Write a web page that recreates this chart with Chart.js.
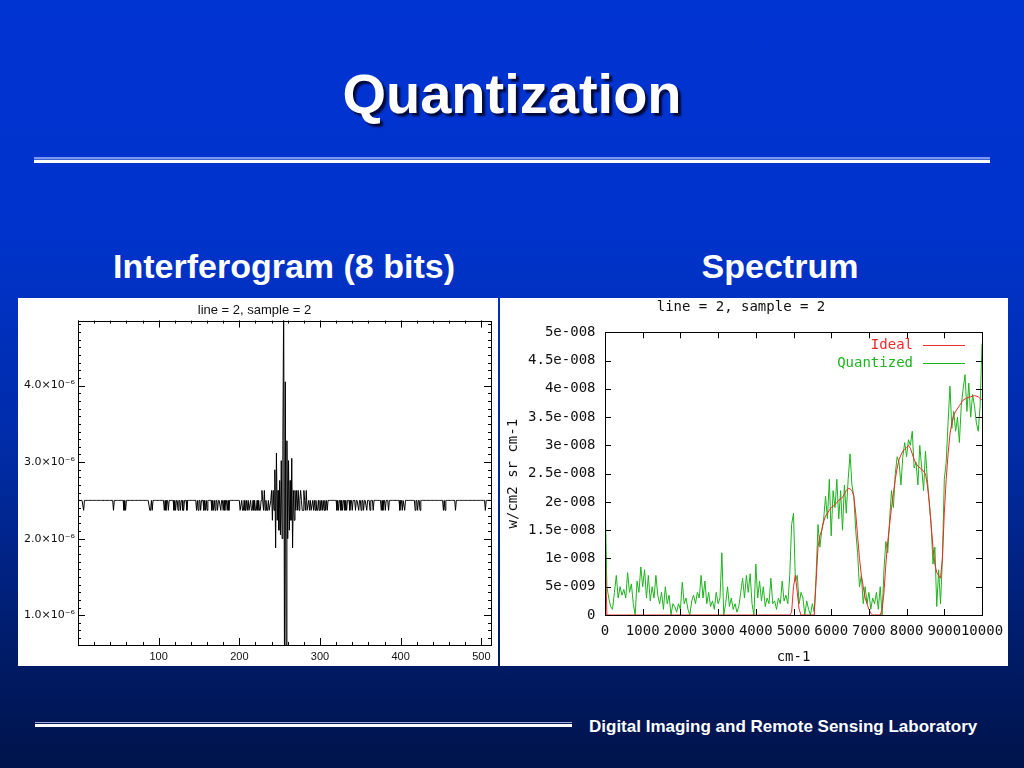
<!DOCTYPE html>
<html>
<head>
<meta charset="utf-8">
<script src="https://cdn.jsdelivr.net/npm/chart.js@4.4.1/dist/chart.umd.min.js"></script>
<style>
    html, body {
        margin: 0;
        padding: 0;
    }
    body {
        width: 1024px;
        height: 768px;
        overflow: hidden;
        position: relative;
        font-family: "Liberation Sans", Arial, sans-serif;
        background: linear-gradient(to bottom, #0034d2 0%, #0033cc 30%, #002ca8 58%, #001c6a 84%, #00134a 100%);
    }
    .title {
        position: absolute;
        left: 0;
        width: 1024px;
        top: 66px;
        line-height: 56px;
        text-align: center;
        color: #fff;
        font-weight: bold;
        font-size: 56px;
        text-shadow: 3px 3px 2px #000a3a;
    }
    .rule-top {
        position: absolute;
        left: 34px;
        width: 956px;
        top: 157px;
        height: 2px;
        background: #7c98ec;
        border-bottom: 1px solid #3d62d8;
    }
    .rule-top-w {
        position: absolute;
        left: 34px;
        width: 956px;
        top: 160px;
        height: 3px;
        background: #fff;
    }
    .subtitle {
        position: absolute;
        top: 247px;
        line-height: 38px;
        color: #fff;
        font-weight: bold;
        font-size: 34px;
        text-align: center;
    }
    .panel {
        position: absolute;
        background: #fff;
    }
    .rule-bot {
        position: absolute;
        left: 35px;
        width: 537px;
        top: 722px;
        height: 1px;
        background: #9fb0d8;
    }
    .rule-bot-w {
        position: absolute;
        left: 35px;
        width: 537px;
        top: 724px;
        height: 3px;
        background: #fff;
    }
    .footer {
        position: absolute;
        left: 589px;
        top: 717px;
        line-height: 20px;
        color: #fff;
        font-weight: bold;
        font-size: 17px;
    }
</style>
</head>
<body>
<div class="title">Quantization</div>
<div class="rule-top"></div>
<div class="rule-top-w"></div>
<div class="subtitle" style="left: 84px; width: 400px;">Interferogram (8 bits)</div>
<div class="subtitle" style="left: 630px; width: 300px;">Spectrum</div>
<div class="panel" style="left: 18px; top: 298px; width: 480px; height: 368px;"><canvas id="interf"></canvas></div>
<div class="panel" style="left: 500px; top: 298px; width: 508px; height: 368px;"><canvas id="spectrum"></canvas></div>
<div class="rule-bot"></div>
<div class="rule-bot-w"></div>
<div class="footer">Digital Imaging and Remote Sensing Laboratory</div>

<script>
// ---- Interferogram (values in units of 1e-6) ----
const interfCount = 512;          // samples 0..511
const interfBase = 2.50;          // zero-path level
const interfLow = 2.37;           // one quantization step down
const interfHigh = 2.63;          // one quantization step up
const interfLowSamples = [7, 44, 57, 59, 89, 90, 92, 107, 109, 112, 119, 121, 124, 127, 130, 131, 135,
    147, 149, 152, 156, 158, 160, 166, 168, 170, 173, 177, 180, 182, 185, 187, 201, 202, 204, 205,
    207, 208, 210, 212, 213, 215, 216, 218, 220, 221, 223, 225, 226, 230, 232, 234, 235, 237,
    278, 279, 282, 284, 285, 287, 289, 290, 292, 294, 296, 297, 299, 301, 303, 305, 307, 309,
    321, 323, 326, 328, 331, 333, 337, 340, 344, 348, 351, 354, 358, 362, 366, 376, 378, 381, 385,
    399, 402, 405, 418, 421, 424, 453, 455, 468, 505];
const interfHighSamples = [228, 231, 276, 280, 283];
const interfBurstStart = 238;
const interfBurst = [2.37, 2.50, 2.63, 2.24, 2.63, 2.37, 2.90, 1.88, 3.12, 2.24,
    2.63, 2.11, 2.76, 2.05, 3.02, 2.00, 3.28, 5.20, 0.20, 4.05,
    0.40, 3.28, 2.00, 3.02, 2.11, 2.76, 2.24, 3.05, 1.88, 2.63,
    2.24, 2.63, 2.37, 2.63, 2.37, 2.63, 2.37, 2.50];
const interfXTicks = [100, 200, 300, 400, 500];
const interfYTicks = [1, 2, 3, 4];

// ---- Spectrum (values in units of 1e-9 W/cm2 sr cm-1) ----
const specStep = 50;              // cm-1 between quantized samples
const quantized = [
    22, 5, 3, 1.5, 1, 4, 7, 3, 5, 3.5, 4.5, 3, 7.5, 4, 5.5, 2, 0, 6, 4, 8.5,
    5, 8, 3, 7, 2.5, 5, 3, 7, 3.5, 2, 4, 1, 5, 2, 3.5, 0, 2, 1.5, 0.5, 2,
    1, 5.8, 2, 3, 1, 0, 2.5, 3.5, 2, 4, 3, 7, 3, 6, 2, 4, 1.5, 2.5, 1, 4,
    2, 3, 11, 0, 2, 5, 1.5, 3, 1, 2, 0.5, 1.5, 4, 6.5, 3, 7, 4, 7.3, 2, 0,
    9, 3, 6, 2.5, 5, 1.5, 3, 2, 6.5, 2, 2.5, 1, 3, 2, 6, 2.5, 3.5, 2, 7, 16,
    18, 6, 7, 2, 4, 3, 0, 2.5, 1, 0, 2, 0.5, 7, 16, 12, 15, 17, 21, 17, 24,
    14, 22, 19, 24, 17, 22, 15, 23, 18, 24, 28.5, 23, 21, 15, 11, 5, 7, 2, 5, 2,
    4, 1, 3, 2, 4, 1, 5, 0, 8, 13, 11, 17, 22, 19, 25, 28, 27, 23, 28, 30.5,
    28, 31, 30, 32.5, 26, 27, 23, 30, 26, 22, 29, 24, 20, 16, 9, 12, 1.5, 8, 2, 10,
    24, 27, 34, 40.5, 33, 36, 32.5, 35, 30.5, 37, 40, 42.5, 36, 41, 35, 39, 37, 34, 32.5, 37, 48
];
const idealX = [0, 50, 4900, 4950, 5000, 5050, 5100, 5150, 5200, 5550, 5600, 5650, 5700, 5750, 5800,
    5850, 5900, 5950, 6000, 6100, 6200, 6300, 6400, 6450, 6500, 6550, 6600, 6650, 6700, 6750, 6800,
    6850, 6900, 6950, 7000, 7050, 7100, 7300, 7350, 7400, 7450, 7500, 7550, 7600, 7650, 7700, 7750,
    7800, 7850, 7900, 7950, 8000, 8050, 8100, 8150, 8200, 8250, 8300, 8400, 8500, 8550, 8600, 8650,
    8700, 8750, 8800, 8850, 8900, 8950, 9000, 9050, 9100, 9150, 9200, 9250, 9300, 9400, 9500, 9600,
    9700, 9800, 9900, 10000];
const idealY = [13, 0, 0, 0.5, 5, 7, 4, 1, 0, 0, 6, 12, 14, 15, 16.5,
    17.5, 18, 18.5, 19, 19.5, 20.3, 20.8, 22, 22.4, 22.3, 22, 21, 18, 14, 10, 7,
    5, 3, 2, 1, 0.3, 0, 0, 1, 4, 9, 13, 16, 19, 21.5, 24, 26,
    27.5, 28.3, 29, 29.3, 29.6, 30, 29.5, 28.5, 27.5, 26.8, 26.3, 25.8, 25, 23, 20, 16,
    12, 9, 7.5, 7, 6.5, 10, 18, 24, 28.5, 32, 34, 35.3, 36, 37, 38, 38.4,
    38.6, 38.8, 38.6, 38];

// Build point lists for the charts
const interfPoints = [];
for (let s = 0; s < interfCount; s++) {
    let v = interfBase;
    if (interfLowSamples.includes(s)) v = interfLow;
    if (interfHighSamples.includes(s)) v = interfHigh;
    const b = s - interfBurstStart;
    if (b >= 0 && b < interfBurst.length) v = interfBurst[b];
    interfPoints.push({ x: s, y: v });
}
const quantizedPoints = quantized.map((v, i) => ({ x: i * specStep, y: v }));
const idealPoints = idealX.map((x, i) => ({ x: x, y: idealY[i] }));

// Frame round the plot plus inward tick marks on all four sides
const frameTicks = {
    id: 'frameTicks',
    afterDatasetsDraw(chart, args, opts) {
        const { ctx, chartArea: a, scales } = chart;
        ctx.save();
        ctx.strokeStyle = '#000';
        ctx.lineWidth = 1;
        ctx.strokeRect(Math.round(a.left) + 0.5, Math.round(a.top) + 0.5,
            Math.round(a.right - a.left), Math.round(a.bottom - a.top));
        ctx.beginPath();
        opts.x.forEach(([step, len]) => {
            const sc = scales.x;
            for (let i = Math.ceil(sc.min / step); i * step <= sc.max; i++) {
                const px = Math.round(sc.getPixelForValue(i * step)) + 0.5;
                ctx.moveTo(px, a.bottom); ctx.lineTo(px, a.bottom - len);
                ctx.moveTo(px, a.top); ctx.lineTo(px, a.top + len);
            }
        });
        opts.y.forEach(([step, len]) => {
            const sc = scales.y;
            for (let i = Math.ceil(sc.min / step - 1e-9); i * step <= sc.max + 1e-9; i++) {
                const py = Math.round(sc.getPixelForValue(i * step)) + 0.5;
                ctx.moveTo(a.left, py); ctx.lineTo(a.left + len, py);
                ctx.moveTo(a.right, py); ctx.lineTo(a.right - len, py);
            }
        });
        ctx.stroke();
        ctx.restore();
    }
};

// gnuplot style key: label then a short line sample
const gnuKey = {
    id: 'gnuKey',
    afterDraw(chart) {
        const { ctx, chartArea: a } = chart;
        ctx.save();
        ctx.font = '14px "DejaVu Sans Mono"';
        ctx.textAlign = 'right';
        ctx.textBaseline = 'middle';
        ctx.lineWidth = 1;
        chart.data.datasets.forEach((ds, i) => {
            const y = Math.round(a.top + 13 + i * 17.5) + 0.5;
            ctx.fillStyle = ds.borderColor;
            ctx.fillText(ds.label, a.right - 69, y);
            ctx.strokeStyle = ds.borderColor;
            ctx.beginPath();
            ctx.moveTo(a.right - 59, y);
            ctx.lineTo(a.right - 17, y);
            ctx.stroke();
        });
        ctx.restore();
    }
};

function noPad(scale) {
    scale.paddingLeft = 0;
    scale.paddingRight = 0;
    scale.paddingTop = 0;
    scale.paddingBottom = 0;
}

const superMinus6 = '\u00d710\u207b\u2076';

new Chart(document.getElementById('interf'), {
    type: 'line',
    data: {
        datasets: [{
            data: interfPoints,
            borderColor: '#000',
            borderWidth: 1,
            pointRadius: 0,
            tension: 0
        }]
    },
    options: {
        animation: false,
        responsive: true,
        maintainAspectRatio: false,
        layout: { padding: { left: 0, right: 7, top: 0, bottom: 0 } },
        plugins: {
            legend: { display: false },
            tooltip: { enabled: false },
            title: {
                display: true,
                text: 'line = 2, sample = 2',
                color: '#111',
                font: { family: 'Liberation Sans', size: 13, weight: 'normal' },
                padding: { top: 5, bottom: 2 }
            },
            frameTicks: { x: [[20, 3], [100, 7]], y: [[0.1, 3], [1, 7]] }
        },
        scales: {
            x: {
                type: 'linear',
                min: 0,
                max: 512,
                grid: { display: false, drawTicks: false },
                border: { display: false },
                afterBuildTicks: s => { s.ticks = interfXTicks.map(v => ({ value: v })); },
                afterFit: s => { s.height = 21; noPad(s); },
                ticks: {
                    autoSkip: false,
                    maxRotation: 0,
                    padding: 5,
                    color: '#111',
                    font: { family: 'Liberation Sans', size: 11 },
                    callback: v => String(v)
                }
            },
            y: {
                min: 0.61,
                max: 4.85,
                grid: { display: false, drawTicks: false },
                border: { display: false },
                afterBuildTicks: s => { s.ticks = interfYTicks.map(v => ({ value: v })); },
                afterFit: s => { s.width = 60; noPad(s); },
                ticks: {
                    padding: 3,
                    color: '#111',
                    font: { family: 'DejaVu Sans', size: 11 },
                    callback: v => v.toFixed(1) + superMinus6
                }
            }
        }
    },
    plugins: [frameTicks]
});

function gnuFormat(v) {
    if (v === 0) return '0';
    const val = v * 1e-9;
    const exp = Math.floor(Math.log10(val) + 1e-9);
    const mant = parseFloat((val / Math.pow(10, exp)).toPrecision(3));
    return mant + 'e-' + String(-exp).padStart(3, '0');
}

new Chart(document.getElementById('spectrum'), {
    type: 'line',
    data: {
        datasets: [
            {
                label: 'Ideal',
                data: idealPoints,
                borderColor: '#f0282a',
                borderWidth: 1,
                pointRadius: 0,
                tension: 0
            },
            {
                label: 'Quantized',
                data: quantizedPoints,
                borderColor: '#1eb41e',
                borderWidth: 1,
                pointRadius: 0,
                tension: 0
            }
        ]
    },
    options: {
        animation: false,
        responsive: true,
        maintainAspectRatio: false,
        layout: { padding: { left: 0, right: 26, top: 0, bottom: 0 } },
        plugins: {
            legend: { display: false },
            tooltip: { enabled: false },
            title: {
                display: true,
                text: 'line = 2, sample = 2',
                color: '#111',
                font: { family: 'DejaVu Sans Mono', size: 14, weight: 'normal' },
                padding: { top: 1, bottom: 16.5 }
            },
            frameTicks: { x: [[1000, 6]], y: [[5, 6]] }
        },
        scales: {
            x: {
                type: 'linear',
                min: 0,
                max: 10000,
                grid: { display: false, drawTicks: false },
                border: { display: false },
                afterFit: s => { s.height = 51; noPad(s); },
                title: {
                    display: true,
                    text: 'cm-1',
                    color: '#111',
                    font: { family: 'DejaVu Sans Mono', size: 14 },
                    padding: { top: 0, bottom: 0 }
                },
                ticks: {
                    stepSize: 1000,
                    autoSkip: false,
                    maxRotation: 0,
                    minRotation: 0,
                    padding: 8,
                    color: '#111',
                    font: { family: 'DejaVu Sans Mono', size: 14 },
                    callback: v => String(v)
                }
            },
            y: {
                min: 0,
                max: 50,
                grid: { display: false, drawTicks: false },
                border: { display: false },
                afterFit: s => { s.width = 105; noPad(s); },
                title: {
                    display: true,
                    text: 'w/cm2 sr cm-1',
                    color: '#111',
                    font: { family: 'DejaVu Sans Mono', size: 14 },
                    padding: { top: 5, bottom: 0 }
                },
                ticks: {
                    stepSize: 5,
                    padding: 9.5,
                    color: '#111',
                    font: { family: 'DejaVu Sans Mono', size: 14 },
                    callback: v => gnuFormat(v)
                }
            }
        }
    },
    plugins: [frameTicks, gnuKey]
});
</script>
</body>
</html>
